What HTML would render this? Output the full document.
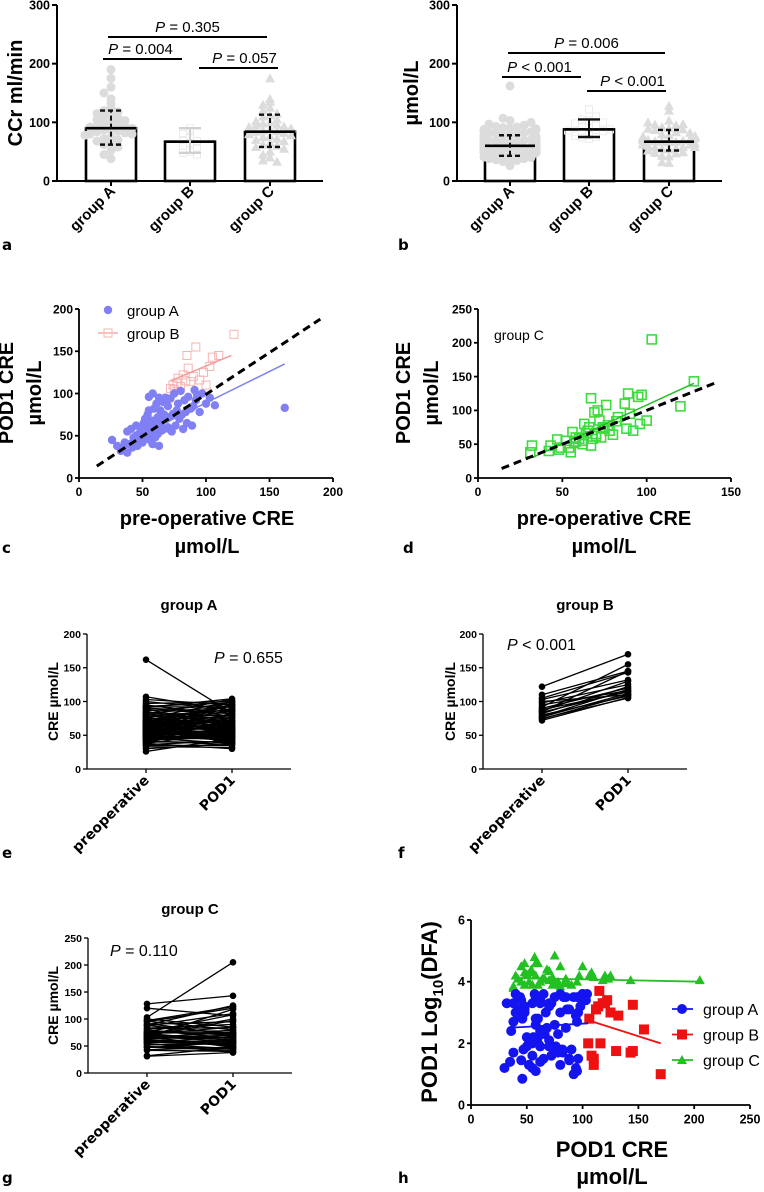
<!DOCTYPE html>
<html><head><meta charset="utf-8"><style>
html,body{margin:0;padding:0;background:#fff;}
svg{display:block;font-family:"Liberation Sans",Arial,sans-serif;}
</style></head><body>
<svg id="fig" width="764" height="1192" viewBox="0 0 764 1192" xmlns="http://www.w3.org/2000/svg"></svg>
<script>
// ---------- data ----------
const groups = ["group A","group B","group C"];
const ccrMean = [90,67,84];
const ccrLo = [62,48,58];
const ccrHi = [120,90,113];
const ccrA = [190,175,160,150,140,132,125,120,118,115,112,110,108,105,103,100,98,96,95,93,92,90,88,87,85,84,82,80,80,78,75,72,70,68,65,62,58,52,45,38];
const ccrB = [90,85,80,75,70,68,65,60,55,50,48,45];
const ccrC = [175,140,135,130,125,120,115,112,110,105,102,100,98,96,95,93,92,90,88,86,85,84,82,80,78,76,75,72,70,68,65,62,60,58,55,50,45,40,35,33];
const creMean = [60,88,67];
const creLo = [43,75,52];
const creHi = [78,105,87];
const ccrPLabels = ["P = 0.004","P = 0.057","P = 0.305"];
const crePLabels = ["P < 0.001","P < 0.001","P = 0.006"];

const preA = [26,30,33,35,36,38,38,40,41,42, 43,44,45,45,46,47,48,48,49,50, 50,51,52,52,53,54,54,55,55,56, 56,57,57,58,58,59,60,60,61,61, 62,62,63,64,64,65,65,66,67,67, 68,69,70,70,71,72,73,74,75,76, 77,78,79,80,81,82,83,84,85,86, 88,89,90,91,92,93,95,97,100,103, 107,162,60,58,66,72,55,48,63,70];
const podA = [45,38,32,35,42,30,55,40,58,36, 48,46,50,62,38,52,44,60,48,55, 42,65,52,70,58,47,75,53,80,62, 45,68,55,100,60,82,48,66,58,88, 52,72,95,62,80,56,67,90,58,75, 95,70,60,85,72,94,55,76,100,62, 80,88,70,103,75,58,92,78,65,96, 82,62,85,104,92,98,78,100,88,95, 86,83,50,40,70,57,96,46,38,94];
const dfaA = [1.45,1.7,3.3,1.4,3.1,1.2,2.0,3.6,1.1,2.4, 3.2,0.85,1.9,3.4,2.7,1.3,3.5,2.2,3.0,1.6, 2.9,3.6,1.3,3.3,2.6,1.8,3.5,2.1,3.0,1.9, 3.4,2.5,1.2,3.6,2.8,1.7,3.1,2.3,3.5,1.5, 2.0,3.3,2.7,1.4,3.6,2.2,3.0,1.8,3.4,2.6, 1.1,3.2,2.0,3.5,1.6,2.9,3.3,1.9,3.6,2.4, 1.3,3.1,2.1,3.4,1.7,2.8,3.5,2.3,1.5,3.0, 1.8,3.3,2.5,3.6,1.0,3.2,1.7,3.4,1.45,3.5, 3.1,3.5,2.2,3.0,1.9,3.6,1.5,2.8,3.3,1.2];
const preB = [72,74,75,77,78,80,82,84,85,86,88,90,92,95,98,100,103,105,110,122];
const podB = [106,110,105,112,118,108,122,115,145,130,114,120,155,116,125,110,132,143,145,170];
const dfaB = [2.8,1.3,2.0,3.1,3.3,1.6,3.4,3.7,3.25,1.75,3.2,3.3,2.45,2.0,3.0,1.5,2.9,1.7,1.75,1.0];
const preC = [31,32,42,43,47,48,49,52,54,55, 56,57,58,60,62,63,64,65,66,67, 67,68,69,70,71,72,73,74,75,76, 77,78,80,83,87,88,89,90,92,95, 96,97,100,103,120,128,58,62,70,82];
const podC = [38,48,40,48,57,42,45,55,45,38, 68,52,60,58,55,80,66,70,75,48, 118,58,97,62,100,85,60,75,73,108, 78,70,64,90,110,73,125,95,70,120, 80,123,85,205,106,143,54,50,65,84];
const dfaC = [3.8,4.6,4.2,3.9,4.8,4.1,4.0,4.3,4.5,3.85, 4.4,4.0,4.6,4.2,3.9,4.5,4.1,4.35,3.95,4.3, 4.05,4.6,4.2,4.0,4.5,4.1,3.9,4.85,4.15,4.3, 4.0,4.35,4.1,3.9,4.15,3.9,4.2,4.0,4.05,4.2, 3.85,4.1,4.0,4.05,4.2,4.05,4.4,4.25,4.1,3.95];
const fitCA = [[30,37],[162,135]];
const fitCB = [[72,115],[120,145]];
const identC = [[14,14],[190,188]];
const fitDC = [[32,30],[128,140]];
const identD = [[14,14],[140,140]];
const fitHA = [[33,2.5],[105,2.65]];
const fitHB = [[105,2.75],[170,2.0]];
const fitHC = [[37,4.12],[205,4.0]];
const tickA = [0,100,200,300];
const tickC = [0,50,100,150,200];
const tickDy = [0,50,100,150,200,250];
const tickDx = [0,50,100,150];
const tickE = [0,50,100,150,200];
const tickG = [0,50,100,150,200,250];
const tickHy = [0,2,4,6];
const tickHx = [0,50,100,150,200,250];

// ---------- helpers ----------
const NS = "http://www.w3.org/2000/svg";
const svg = document.getElementById("fig");
function el(tag, attrs, parent, txt){
  const e = document.createElementNS(NS, tag);
  for (const k in attrs) e.setAttribute(k, attrs[k]);
  if (txt !== undefined) e.textContent = txt;
  (parent || svg).appendChild(e);
  return e;
}
function grp(name){
  const g = el("g", {});
  
  
  return g;
}
function lin(d0,d1,r0,r1){ return v => r0 + (v-d0)*(r1-r0)/(d1-d0); }
function txt(g, x, y, s, size, opts){
  opts = opts || {};
  const t = el("text", {x:x, y:y, "font-size":size, "font-weight":opts.w||"bold", "text-anchor":opts.a||"middle", fill:opts.fill||"#000"}, g, s);
  if (opts.rot !== undefined) t.setAttribute("transform", `rotate(${opts.rot} ${x} ${y})`);
  if (opts.font) t.setAttribute("font-family", opts.font);
  return t;
}
function pText(g, x, y, s, size, anchor){
  const t = el("text", {x:x, y:y, "font-size":size, "text-anchor":anchor||"middle", fill:"#000"}, g);
  el("tspan", {"font-style":"italic"}, t, "P");
  el("tspan", {}, t, s.slice(1));
  return t;
}
function axes(g, x0, x1, y0, y1, xs, ys, yt, xt, opt){
  const lw = opt.lw || 1.5;
  el("line",{x1:x0,y1:y0,x2:x0,y2:y1,stroke:"#000","stroke-width":lw},g);
  el("line",{x1:x0-0.5,y1:y0,x2:x1,y2:y0,stroke:"#000","stroke-width":lw},g);
  yt.forEach(v=>{
    const y = ys(v);
    el("line",{x1:x0-4,y1:y,x2:x0,y2:y,stroke:"#000","stroke-width":lw},g);
    txt(g, x0-6, y+opt.fs*0.36, String(v), opt.fs, {a:"end"});
  });
  if (xt) xt.forEach(v=>{
    const x = xs(v);
    el("line",{x1:x,y1:y0,x2:x,y2:y0+4,stroke:"#000","stroke-width":lw},g);
    txt(g, x, y0+6+opt.fs, String(v), opt.fs);
  });
}
function swarm(vals, step, dx){
  const bins = {};
  return vals.map(v=>{
    const b = Math.round(v/step);
    const k = bins[b] = (bins[b]||0)+1;
    const s = (k%2 ? 1 : -1) * Math.floor(k/2);
    return Math.max(-26, Math.min(26, s*dx));
  });
}
function label(s, x, y){
  const t = txt(svg, x, y, s, 15, {a:"start", font:"DejaVu Sans, sans-serif"});
  
  
}

// ---------- bar panels ----------
function barPanel(name, ox, x1, cx, means, lo, hi, scat, ymax, ytitle, ytx, brackets, pLabels){
  const g = grp(name);
  const ys = lin(0, ymax, 181, 5);
  means.forEach((m,i)=>{
    const r = el("rect",{x:cx[i]-25,y:ys(m),width:50,height:181-ys(m),fill:"#fff",stroke:"#000","stroke-width":2.6},g);
    
    
  });
  scat.forEach((vals,i)=>{
    const off = swarm(vals, 12, 7);
    const col = i===1 ? "#ececec" : "#dcdcdc";
    vals.forEach((v,j)=>{
      const x = cx[i]+off[j], y = ys(v);
      let p;
      if (i===0) p = el("circle",{cx:x,cy:y,r:4.5,fill:col},g);
      else if (i===1) p = el("rect",{x:x-3.5,y:y-3.5,width:7,height:7,fill:"none",stroke:col,"stroke-width":1},g);
      else p = el("polygon",{points:`${x},${y-5} ${x-5},${y+4} ${x+5},${y+4}`,fill:col},g);
      
      
    });
  });
  means.forEach((m,i)=>{
    el("line",{x1:cx[i]-25,y1:ys(m),x2:cx[i]+25,y2:ys(m),stroke:"#000","stroke-width":2.6},g);
    const c = i===1 && name==="panel-a" ? "#d0d0d0" : "#111";
    const dash = (i===1) ? "" : "5,3";
    el("line",{x1:cx[i],y1:ys(lo[i]),x2:cx[i],y2:ys(hi[i]),stroke:c,"stroke-width":2,"stroke-dasharray":dash},g);
    [lo[i],hi[i]].forEach(v=>el("line",{x1:cx[i]-11,y1:ys(v),x2:cx[i]+11,y2:ys(v),stroke:c,"stroke-width":2.4,"stroke-dasharray":dash},g));
  });
  el("line",{x1:ox,y1:5,x2:ox,y2:181,stroke:"#000","stroke-width":2},g);
  el("line",{x1:ox-1,y1:181,x2:x1,y2:181,stroke:"#000","stroke-width":2},g);
  [0,100,200,300].forEach(v=>{
    el("line",{x1:ox-5,y1:ys(v),x2:ox,y2:ys(v),stroke:"#000","stroke-width":2},g);
    txt(g, ox-7, ys(v)+4.5, String(v), 12.5, {a:"end"});
  });
  cx.forEach((x,i)=>{
    el("line",{x1:x,y1:181,x2:x,y2:186,stroke:"#000","stroke-width":2},g);
    txt(g, x+5, 192, groups[i], 15, {a:"end", rot:-45});
  });
  const yt = txt(g, ytx, 93, ytitle, 20, {rot:-90});
  
  
  brackets.forEach((b,i)=>{
    el("line",{x1:b[0],y1:b[2],x2:b[1],y2:b[2],stroke:"#000","stroke-width":2},g);
    pText(g, (b[0]+b[1])/2 + (b[3]||0), b[2]-5, pLabels[i], 15);
  });
}
barPanel("panel-a", 57, 323, [111,190,270], ccrMean, ccrLo, ccrHi, [ccrA,ccrB,ccrC], 300, "CCr ml/min", 22,
  [[103,182,59,-2],[199,278,68,6],[108,267,37]], ccrPLabels);
barPanel("panel-b", 457, 722, [510,589,669], creMean, creLo, creHi, [preA,preB,preC], 300, "µmol/L", 418,
  [[502,581,77,-2],[587,666,91,6],[508,665,53]], crePLabels);
label("a", 2, 250); label("b", 398, 250);

// ---------- panel c ----------
(function(){
  const g = grp("panel-c");
  const xs = lin(0,200,79,333), ys = lin(0,200,478,309);
  axes(g,79,333,478,309,xs,ys,tickC,tickC,{fs:12,lw:1.8});
  preB.forEach((v,i)=>{
    const p = el("rect",{x:xs(v)-4,y:ys(podB[i])-4,width:8,height:8,fill:"none",stroke:"#f7b4b4","stroke-width":1},g);
    
    
  });
  preA.forEach((v,i)=>{
    const p = el("circle",{cx:xs(v),cy:ys(podA[i]),r:4.2,fill:"#8080f4"},g);
    
    
  });
  el("line",{x1:xs(fitCB[0][0]),y1:ys(fitCB[0][1]),x2:xs(fitCB[1][0]),y2:ys(fitCB[1][1]),stroke:"#f59a9a","stroke-width":1.5},g);
  el("line",{x1:xs(fitCA[0][0]),y1:ys(fitCA[0][1]),x2:xs(fitCA[1][0]),y2:ys(fitCA[1][1]),stroke:"#8080f4","stroke-width":1.5},g);
  el("line",{x1:xs(identC[0][0]),y1:ys(identC[0][1]),x2:xs(identC[1][0]),y2:ys(identC[1][1]),stroke:"#000","stroke-width":3,"stroke-dasharray":"8,5"},g);
  el("circle",{cx:108,cy:310,r:4.2,fill:"#8080f4"},g);
  txt(g,127,316,"group A",15,{a:"start",w:"normal"});
  el("line",{x1:98,y1:333,x2:118,y2:333,stroke:"#f59a9a","stroke-width":1.2},g);
  el("rect",{x:104,y:329,width:8,height:8,fill:"none",stroke:"#f7b4b4"},g);
  txt(g,127,339,"group B",15,{a:"start",w:"normal"});
  txt(g,13,393,"POD1 CRE",20,{rot:-90});
  txt(g,41,393,"µmol/L",20,{rot:-90});
  txt(g,207,525,"pre-operative CRE",20);
  txt(g,207,553,"µmol/L",20);
})();
label("c", 2, 553);

// ---------- panel d ----------
(function(){
  const g = grp("panel-d");
  const xs = lin(0,150,478,731), ys = lin(0,250,478,309);
  axes(g,478,731,478,309,xs,ys,tickDy,tickDx,{fs:12,lw:1.8});
  preC.forEach((v,i)=>{
    const p = el("rect",{x:xs(v)-4.5,y:ys(podC[i])-4.5,width:9,height:9,fill:"none",stroke:"#3ddc3d","stroke-width":1.6},g);
    
    
  });
  el("line",{x1:xs(fitDC[0][0]),y1:ys(fitDC[0][1]),x2:xs(fitDC[1][0]),y2:ys(fitDC[1][1]),stroke:"#22c022","stroke-width":1.5},g);
  el("line",{x1:xs(identD[0][0]),y1:ys(identD[0][1]),x2:xs(identD[1][0]),y2:ys(identD[1][1]),stroke:"#000","stroke-width":3,"stroke-dasharray":"8,5"},g);
  txt(g,494,340,"group C",14,{a:"start",w:"normal"});
  txt(g,410,393,"POD1 CRE",20,{rot:-90});
  txt(g,438,393,"µmol/L",20,{rot:-90});
  txt(g,604,525,"pre-operative CRE",20);
  txt(g,604,553,"µmol/L",20);
})();
label("d", 403, 553);

// ---------- paired panels e/f/g ----------
function paired(name, ax, y0, y1, ymax, ticks, pre, pod, title, pLab, pX, pY, ytx){
  const g = grp(name);
  const px = ax+59, qx = ax+145;
  const ys = lin(0, ymax, y0, y1);
  axes(g, ax, ax+204, y0, y1, null, ys, ticks, null, {fs:10.5,lw:1.3});
  [px,qx].forEach(x=>el("line",{x1:x,y1:y0,x2:x,y2:y0+4,stroke:"#000","stroke-width":1.3},g));
  pre.forEach((v,i)=>{
    const l = el("line",{x1:px,y1:ys(v),x2:qx,y2:ys(pod[i]),stroke:"#000","stroke-width":1.3},g);
    
    
    el("circle",{cx:px,cy:ys(v),r:3.3,fill:"#000"},g);
    el("circle",{cx:qx,cy:ys(pod[i]),r:3.3,fill:"#000"},g);
  });
  txt(g, ax+102, y1-24, title, 15);
  pText(g, pX, pY, pLab, 16, "start");
  txt(g, px+4, y0+12, "preoperative", 14, {a:"end", rot:-45, font:"DejaVu Sans, sans-serif"});
  txt(g, qx+4, y0+12, "POD1", 14, {a:"end", rot:-45, font:"DejaVu Sans, sans-serif"});
  txt(g, ytx, (y0+y1)/2, "CRE µmol/L", 14, {rot:-90});
}
paired("panel-e", 87, 769, 634, 200, tickE, preA, podA, "group A", "P = 0.655", 214, 663, 58);
paired("panel-f", 483, 769, 634, 200, tickE, preB, podB, "group B", "P < 0.001", 507, 650, 455);
paired("panel-g", 88, 1073, 938, 250, tickG, preC, podC, "group C", "P = 0.110", 110, 956, 58);
label("e", 2, 858); label("f", 398, 858); label("g", 2, 1183);

// ---------- panel h ----------
(function(){
  const g = grp("panel-h");
  const xs = lin(0,250,471,750), ys = lin(0,6,1105,920);
  axes(g,471,750,1105,920,xs,ys,tickHy,tickHx,{fs:12.5,lw:1.8});
  podC.forEach((v,i)=>{
    const x = xs(v), y = ys(dfaC[i]);
    const p = el("polygon",{points:`${x},${y-5} ${x-5},${y+4} ${x+5},${y+4}`,fill:"#22c022"},g);
    
    
  });
  podA.forEach((v,i)=>{
    const p = el("circle",{cx:xs(v),cy:ys(dfaA[i]),r:5,fill:"#1414f0"},g);
    
    
  });
  podB.forEach((v,i)=>{
    const p = el("rect",{x:xs(v)-5,y:ys(dfaB[i])-5,width:10,height:10,fill:"#ee1111"},g);
    
    
  });
  [[fitHA,"#1414f0"],[fitHB,"#ee1111"],[fitHC,"#22c022"]].forEach(([f,c])=>
    el("line",{x1:xs(f[0][0]),y1:ys(f[0][1]),x2:xs(f[1][0]),y2:ys(f[1][1]),stroke:c,"stroke-width":1.8},g));
  const leg = [["group A","#1414f0"],["group B","#ee1111"],["group C","#22c022"]];
  leg.forEach(([s,c],i)=>{
    const y = 1009 + i*25.5;
    const lg = el("g",{},g);
    
    
    el("line",{x1:672,y1:y,x2:693,y2:y,stroke:c,"stroke-width":1.8},lg);
    if (i===0) el("circle",{cx:682,cy:y,r:5,fill:c},lg);
    else if (i===1) el("rect",{x:677,y:y-5,width:10,height:10,fill:c},lg);
    else el("polygon",{points:`682,${y-5} 677,${y+4} 687,${y+4}`,fill:c},lg);
    txt(lg,703,y+6,s,16,{a:"start",w:"normal"});
  });
  const t = txt(g,437,1012,"POD1 Log",22,{rot:-90});
  el("tspan",{"font-size":15,dy:6},t,"10");
  el("tspan",{dy:-6},t,"(DFA)");
  txt(g,612,1157,"POD1 CRE",22);
  txt(g,612,1184,"µmol/L",22);
})();
label("h", 398, 1183);
</script>
</body></html>
